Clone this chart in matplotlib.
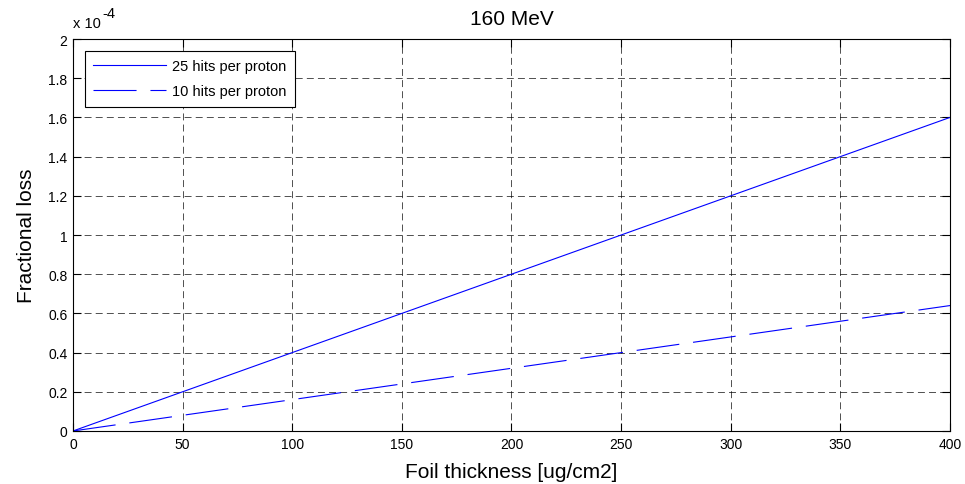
import matplotlib
matplotlib.use("Agg")
import matplotlib.pyplot as plt
import numpy as np

plt.rcParams["font.family"] = ["Liberation Sans", "DejaVu Sans"]
plt.rcParams["lines.scale_dashes"] = False

# foil thickness [ug/cm2] and fractional loss
thickness = [0, 50, 100, 150, 200, 250, 300, 350, 400]
loss_25 = [0, 0.2e-4, 0.4e-4, 0.6e-4, 0.8e-4, 1.0e-4, 1.2e-4, 1.4e-4, 1.6e-4]
loss_10 = [0, 0.08e-4, 0.16e-4, 0.24e-4, 0.32e-4, 0.40e-4, 0.48e-4, 0.56e-4, 0.64e-4]
labels = ["25 hits per proton", "10 hits per proton"]
scale = 1e-4

fig = plt.figure(figsize=(9.65, 4.85), dpi=100)
ax = fig.add_axes([0.0756, 0.1093, 0.9089, 0.8082])

x = np.array(thickness)
ax.plot(x, np.array(loss_25) / scale, color="blue", linewidth=0.8, label=labels[0])
ax.plot(x, np.array(loss_10) / scale, color="blue", linewidth=0.8,
        dashes=(31, 10), label=labels[1])

ax.set_xlim(0, 400)
ax.set_ylim(0, 2)
ax.set_xticks(np.arange(0, 401, 50))
ax.set_yticks(np.arange(0, 2.01, 0.2))
ax.set_yticklabels(["0", "0.2", "0.4", "0.6", "0.8", "1", "1.2", "1.4", "1.6", "1.8", "2"])
ax.tick_params(direction="in", top=True, right=True, labelsize=10, length=6, width=0.8,
               pad=4)
ax.grid(True, color="black", linestyle=(0, (5, 3)), linewidth=0.6, alpha=0.8)
for s in ax.spines.values():
    s.set_linewidth(0.8)

ax.set_xlabel("Foil thickness [ug/cm2]", fontsize=15, labelpad=8)
ax.set_ylabel("Fractional loss", fontsize=15, labelpad=9)
ax.set_title("160 MeV", fontsize=15, pad=11)

# exponent label, MATLAB style
ax.text(0.0, 1.03, "x 10", transform=ax.transAxes, fontsize=10.5,
        ha="left", va="baseline")
ax.text(0.033, 1.055, "-4", transform=ax.transAxes, fontsize=10.5,
        ha="left", va="baseline")

leg = ax.legend(loc="upper left", fontsize=10.5, fancybox=False, edgecolor="black",
                framealpha=1, borderaxespad=0.8, handlelength=5.0, handletextpad=0.4,
                labelspacing=0.75, borderpad=0.6)
leg.get_frame().set_linewidth(0.8)

fig.savefig("out.png", dpi=100)
